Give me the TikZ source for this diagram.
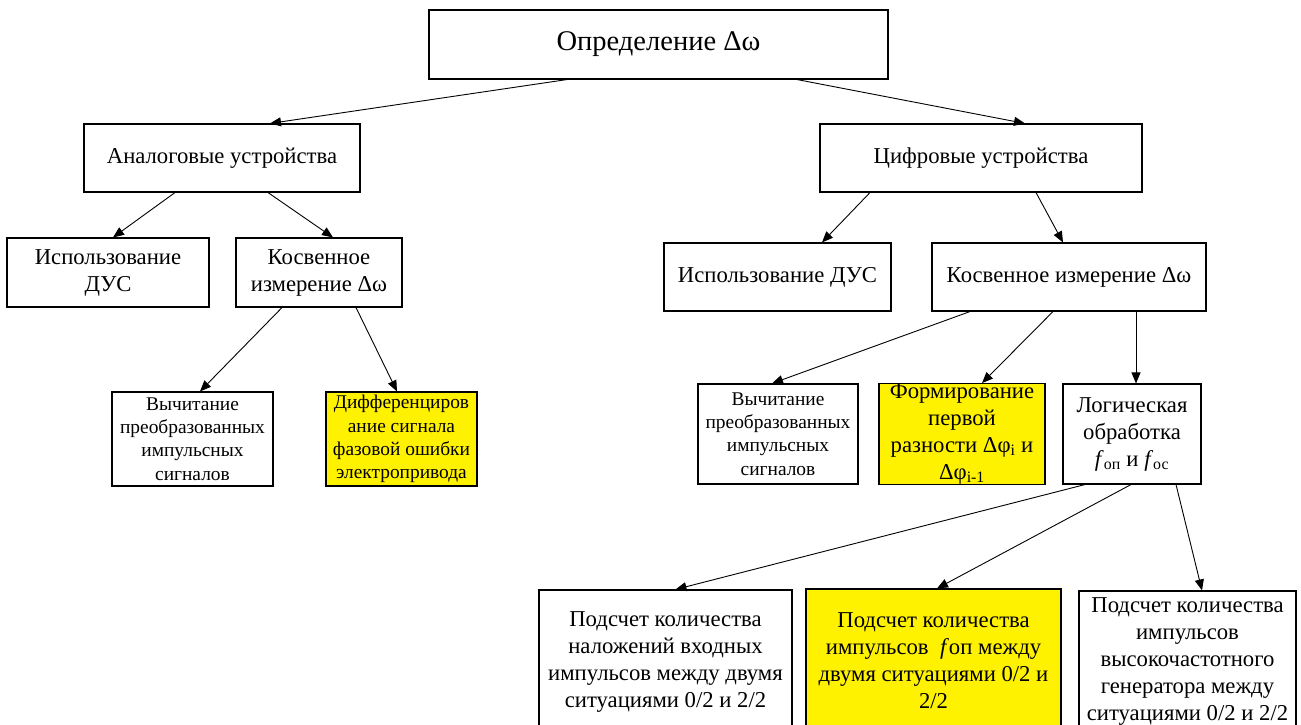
\documentclass[tikz,border=0pt]{standalone}
\usepackage{fontspec}
\setmainfont{Liberation Serif}
\usetikzlibrary{calc,arrows.meta}

\begin{document}
\begin{tikzpicture}[x=1pt, y=-1pt,
    box/.style={draw, line width=1.1pt, inner sep=0pt, align=center},
    hl/.style={box, fill=yellow},
    big/.style={font=\fontsize{28.5}{33}\selectfont},
    mid/.style={font=\fontsize{22.7}{27}\selectfont},
    small/.style={font=\fontsize{19.4}{23.2}\selectfont},
    link/.style={-{Triangle[length=11pt,width=9pt]}, line width=0.9pt}]
  \useasboundingbox (0,0) rectangle (1301,725);
  \clip (0,0) rectangle (1301,725);
  \node[box, big, minimum width=459pt, minimum height=69pt] (a1) at (658.5,44.5) {Определение Δω};
  \node[box, mid, minimum width=276pt, minimum height=68pt] (b1) at ($(a1) + (-436.5,113.5)$) {Аналоговые устройства};
  \node[box, mid, minimum width=322pt, minimum height=68pt] (b2) at ($(a1) + (322.5,113.5)$) {Цифровые устройства};
  \node[box, mid, minimum width=202pt, minimum height=69pt] (c1) at ($(b1) + (-114,114.5)$) {Использование\\ДУС};
  \node[box, mid, minimum width=166pt, minimum height=69pt] (c2) at ($(b1) + (97,114.5)$) {Косвенное\\измерение Δω};
  \node[box, mid, minimum width=227pt, minimum height=68pt] (c3) at ($(b2) + (-203.5,119)$) {Использование ДУС};
  \node[box, mid, minimum width=274pt, minimum height=68pt] (c4) at ($(b2) + (88,119)$) {Косвенное измерение Δω};
  \node[box, small, minimum width=161pt, minimum height=94pt] (d1) at ($(c2) + (-126.5,166.5)$) {Вычитание\\преобразованных\\импульсных\\сигналов};
  \node[hl, small, minimum width=151pt, minimum height=94pt] (d2) at ($(c2) + (82.5,166.5)$) {Дифференциров\\ание сигнала\\фазовой ошибки\\электропривода};
  \node[box, small, minimum width=160pt, minimum height=100pt] (d3) at ($(c4) + (-291,157)$) {Вычитание\\преобразованных\\импульсных\\сигналов};
  \node[hl, mid, minimum width=166pt, minimum height=100pt] (d4) at ($(c4) + (-107,157)$) {Формирование\\первой\\разности Δφ\textsubscript{i} и\\Δφ\textsubscript{i-1}};
  \node[box, mid, minimum width=138pt, minimum height=100pt] (d5) at ($(c4) + (63,157)$) {Логическая\\обработка\\\textit{f}\textsubscript{оп} и \textit{f}\textsubscript{ос}};
  \node[box, mid, minimum width=253pt, minimum height=144pt] (e1) at ($(d5) + (-466.5,228)$) {Подсчет количества\\наложений входных\\импульсов между двумя\\ситуациями 0/2 и 2/2};
  \node[hl, mid, minimum width=255pt, minimum height=144pt] (e2) at ($(d5) + (-198.5,227)$) {Подсчет количества\\импульсов~ \textit{f}оп между\\двумя ситуациями 0/2 и\\2/2};
  \node[box, mid, minimum width=217pt, minimum height=142pt] (e3) at ($(d5) + (55.5,228)$) {Подсчет количества\\импульсов\\высокочастотного\\генератора между\\ситуациями 0/2 и 2/2};
  \draw[link] ([xshift=-91.5pt]a1.south) -- ([xshift=48pt]b1.north);
  \draw[link] ([xshift=138.5pt]a1.south) -- ([xshift=44pt]b2.north);
  \draw[link] ([xshift=-47pt]b1.south) -- ([xshift=5pt]c1.north);
  \draw[link] ([xshift=46pt]b1.south) -- ([xshift=14pt]c2.north);
  \draw[link] ([xshift=-37pt]c2.south) -- ([xshift=7.5pt]d1.north);
  \draw[link] ([xshift=37pt]c2.south) -- ([xshift=-4.5pt]d2.north);
  \draw[link] ([xshift=-111pt]b2.south) -- ([xshift=44.5pt]c3.north);
  \draw[link] ([xshift=55pt]b2.south) -- ([xshift=-6pt]c4.north);
  \draw[link] ([xshift=-99pt]c4.south) -- ([xshift=-6pt]d3.north);
  \draw[link] ([xshift=-16pt]c4.south) -- ([xshift=20pt]d4.north);
  \draw[link] ([xshift=67pt]c4.south) -- ([xshift=4pt]d5.north);
  \draw[link] ([xshift=-47pt]d5.south) -- ([xshift=10pt]e1.north);
  \draw[link] ([xshift=-1pt]d5.south) -- ([xshift=3.5pt]e2.north);
  \draw[link] ([xshift=44pt]d5.south) -- ([xshift=14.5pt]e3.north);
\end{tikzpicture}
\end{document}
